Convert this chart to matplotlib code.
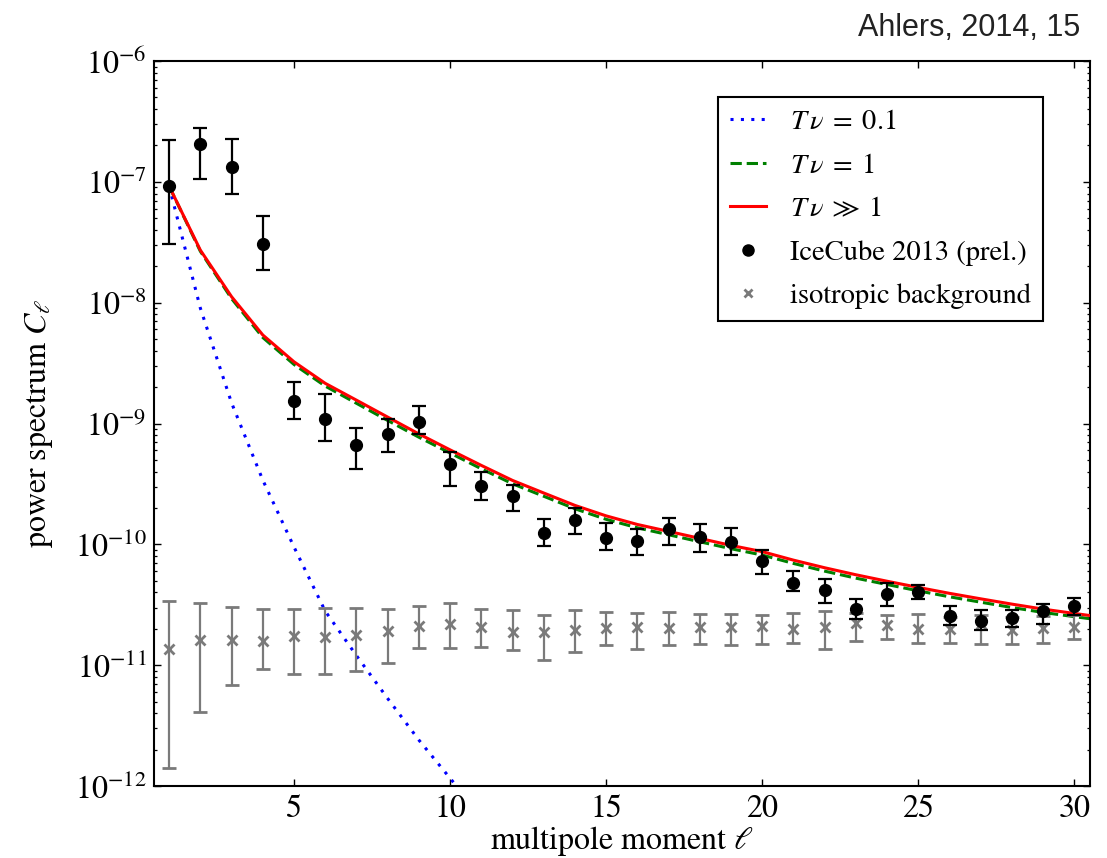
import numpy as np
import matplotlib
matplotlib.use("Agg")
import matplotlib.pyplot as plt
from matplotlib.lines import Line2D

plt.rcParams["font.family"] = ["STIXGeneral"]
plt.rcParams["mathtext.fontset"] = "stix"

# multipole moments
ell = np.arange(1, 31)
ell_model = np.arange(1, 32)
ell_fast = np.arange(1, 12)

# IceCube 2013 (prel.) power spectrum with lower / upper error bounds
icecube = [9.2e-8, 2.04e-7, 1.32e-7, 3.04e-8, 1.54e-9, 1.09e-9, 6.6e-10, 8.2e-10, 1.03e-9, 4.58e-10,
           3.03e-10, 2.52e-10, 1.24e-10, 1.58e-10, 1.13e-10, 1.06e-10, 1.34e-10, 1.16e-10, 1.04e-10, 7.26e-11,
           4.83e-11, 4.17e-11, 2.94e-11, 3.85e-11, 4.04e-11, 2.55e-11, 2.34e-11, 2.48e-11, 2.8e-11, 3.08e-11]
icecube_hi = [2.2e-7, 2.77e-7, 2.25e-7, 5.24e-8, 2.21e-9, 1.74e-9, 9.2e-10, 1.10e-9, 1.39e-9, 5.83e-10,
              3.96e-10, 3.11e-10, 1.62e-10, 2.0e-10, 1.50e-10, 1.33e-10, 1.64e-10, 1.47e-10, 1.37e-10, 8.9e-11,
              6.0e-11, 5.12e-11, 3.56e-11, 4.78e-11, 4.65e-11, 3.1e-11, 2.87e-11, 2.85e-11, 3.2e-11, 3.63e-11]
icecube_lo = [3.05e-8, 1.06e-7, 7.9e-8, 1.86e-8, 1.08e-9, 7.2e-10, 4.2e-10, 5.8e-10, 8.2e-10, 3.03e-10,
              2.31e-10, 1.88e-10, 9.6e-11, 1.22e-10, 8.95e-11, 8.2e-11, 9.9e-11, 8.7e-11, 8.2e-11, 5.66e-11,
              4.09e-11, 3.24e-11, 2.39e-11, 3.1e-11, 3.52e-11, 2.14e-11, 1.96e-11, 2.07e-11, 2.18e-11, 2.62e-11]

# isotropic background expectation with lower / upper bounds
iso = [1.36e-11, 1.61e-11, 1.61e-11, 1.59e-11, 1.74e-11, 1.71e-11, 1.79e-11, 1.92e-11, 2.11e-11, 2.18e-11,
       2.08e-11, 1.89e-11, 1.87e-11, 1.95e-11, 2.05e-11, 2.07e-11, 2.05e-11, 2.06e-11, 2.06e-11, 2.1e-11,
       1.99e-11, 2.07e-11, 2.24e-11, 2.17e-11, 1.99e-11, 1.99e-11, 2.2e-11, 1.95e-11, 2.02e-11, 2.07e-11]
iso_hi = [3.39e-11, 3.24e-11, 3.02e-11, 2.89e-11, 2.92e-11, 2.98e-11, 2.98e-11, 2.89e-11, 3.08e-11, 3.24e-11,
          2.9e-11, 2.84e-11, 2.61e-11, 2.84e-11, 2.78e-11, 2.69e-11, 2.73e-11, 2.63e-11, 2.63e-11, 2.6e-11,
          2.71e-11, 2.82e-11, 2.7e-11, 2.6e-11, 2.63e-11, 2.5e-11, 2.6e-11, 2.5e-11, 2.55e-11, 2.6e-11]
iso_lo = [1.41e-12, 4.1e-12, 6.9e-12, 9.3e-12, 8.5e-12, 8.5e-12, 8.9e-12, 1.05e-11, 1.40e-11, 1.40e-11,
          1.42e-11, 1.34e-11, 1.11e-11, 1.29e-11, 1.47e-11, 1.35e-11, 1.47e-11, 1.51e-11, 1.47e-11, 1.5e-11,
          1.53e-11, 1.37e-11, 1.6e-11, 1.65e-11, 1.52e-11, 1.54e-11, 1.5e-11, 1.51e-11, 1.53e-11, 1.66e-11]

# model spectra
model_01 = [9.2e-8, 9.0e-9, 1.48e-9, 3.4e-10, 9.5e-11, 2.8e-11, 1.2e-11, 5.3e-12, 2.4e-12, 1.16e-12, 5.6e-13]
model_1 = [9.2e-8, 2.66e-8, 1.08e-8, 5.15e-9, 3.08e-9, 2.04e-9, 1.47e-9, 1.06e-9, 7.7e-10, 5.7e-10,
           4.22e-10, 3.17e-10, 2.5e-10, 1.97e-10, 1.61e-10, 1.37e-10, 1.2e-10, 1.05e-10, 9.2e-11, 8.15e-11,
           6.95e-11, 6.0e-11, 5.25e-11, 4.65e-11, 4.12e-11, 3.68e-11, 3.32e-11, 3.0e-11, 2.73e-11, 2.52e-11, 2.33e-11]
model_inf = [9.2e-8, 2.72e-8, 1.12e-8, 5.4e-9, 3.24e-9, 2.15e-9, 1.56e-9, 1.13e-9, 8.2e-10, 6.05e-10,
             4.5e-10, 3.38e-10, 2.66e-10, 2.1e-10, 1.72e-10, 1.46e-10, 1.28e-10, 1.12e-10, 9.8e-11, 8.7e-11,
             7.4e-11, 6.4e-11, 5.6e-11, 4.95e-11, 4.4e-11, 3.93e-11, 3.54e-11, 3.2e-11, 2.91e-11, 2.68e-11, 2.47e-11]

fig = plt.figure(figsize=(11.07, 8.58), dpi=100)
ax = fig.add_axes([0.1387, 0.0839, 0.8460, 0.8450])

dotted = (0, (1, 2.4))
ax.plot(ell_fast, model_01, ls=dotted, color="blue", lw=2.2, zorder=2)
ax.plot(ell_model, model_1, ls="--", color="green", lw=2.2, zorder=2)
ax.plot(ell_model, model_inf, ls="-", color="red", lw=2.2, zorder=3)

ic = np.array(icecube)
ax.errorbar(ell, ic, yerr=[ic - np.array(icecube_lo), np.array(icecube_hi) - ic],
            fmt="o", color="black", ms=8.5, capsize=5, elinewidth=1.6, capthick=1.6, zorder=4)
bg = np.array(iso)
gray = "#7a7a7a"
ax.errorbar(ell, bg, yerr=[bg - np.array(iso_lo), np.array(iso_hi) - bg],
            fmt="x", color=gray, ms=7, mew=2, capsize=5, elinewidth=1.6, capthick=1.6, zorder=3)

ax.set_yscale("log")
ax.set_xlim(0.5, 30.5)
ax.set_ylim(1e-12, 1e-6)
ax.set_xticks([5, 10, 15, 20, 25, 30])

ax.tick_params(which="both", direction="in", top=True, right=True, labelsize=23)
ax.tick_params(which="major", length=5, width=1.0)
ax.tick_params(which="minor", length=2.5, width=0.9)
ax.tick_params(axis="x", pad=6)
ax.tick_params(axis="y", pad=5)
for sp in ax.spines.values():
    sp.set_linewidth(1.5)

ax.set_xlabel(r"multipole moment $\ell$", fontsize=23, labelpad=0)
ax.set_ylabel(r"power spectrum $C_\ell$", fontsize=23, labelpad=14)

handles = [
    Line2D([], [], ls=dotted, color="blue", lw=2.2),
    Line2D([], [], ls="--", color="green", lw=2.2),
    Line2D([], [], ls="-", color="red", lw=2.2),
    Line2D([], [], ls="none", marker="o", color="black", ms=8),
    Line2D([], [], ls="none", marker="x", color=gray, ms=6, mew=2),
]
labels = [r"$T\,\nu\;=\;0.1$", r"$T\,\nu\;=\;1$", r"$T\,\nu\;\gg\;1$",
          "IceCube 2013 (prel.)", "isotropic background"]
leg = ax.legend(handles, labels, loc="upper right", bbox_to_anchor=(0.9498, 0.9503),
                borderaxespad=0, fontsize=20.5, handlelength=1.25, handletextpad=0.85,
                labelspacing=0.62, borderpad=0.42, fancybox=False, framealpha=1)
leg.get_frame().set_edgecolor("black")
leg.get_frame().set_linewidth(1.5)

fig.text(1080 / 1107, 1 - 28 / 858, "Ahlers, 2014, 15", ha="right", va="center",
         fontsize=22, color="#222222", family=["Liberation Sans Narrow", "Liberation Sans"])

fig.savefig("out.png", dpi=100)
